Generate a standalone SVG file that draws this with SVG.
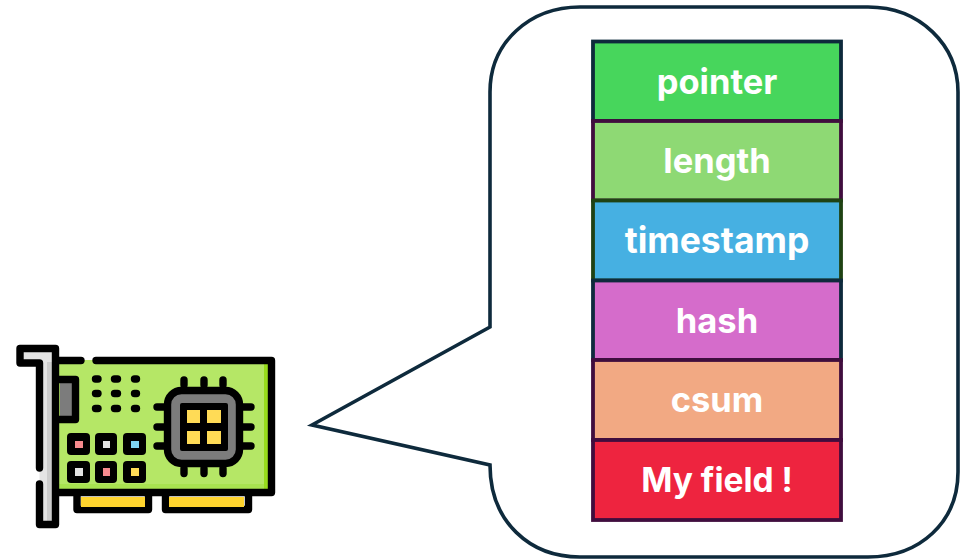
<svg xmlns="http://www.w3.org/2000/svg" width="960" height="559" viewBox="0 0 960 559">
<style>
.l{font-family:Inter,"Liberation Sans",sans-serif;font-weight:700;font-size:34.500px;fill:#fff;text-anchor:middle}
.f{stroke-width:3.8}
.k{fill:none;stroke:#000;stroke-width:7.400;stroke-linecap:round;stroke-linejoin:round}
.b{fill:#000}
.y{fill:#ffdb56}
.w{fill:#e4e4e4}
.r{fill:#f68a8e}
</style>
<rect width="960" height="559" fill="#fff"/>
<g id="callout"><path d="M490 327V92C490 42 530 7 580 7H868C920 7 958 45 958 92V472C958 522 920 557 868 557H580C530 557 490 522 490 465L312 425Z" fill="#fff" stroke="#0e2a3c" stroke-width="3.6" stroke-linejoin="miter"/></g>
<g id="nic">
<path d="M57 360H272V492H57Z" fill="#b5e766"/>
<path d="M57 484H270V490H57Z" fill="#a8e350"/>
<path d="M264 362H270V490H264Z" fill="#97dc1c"/>
<path d="M20 348.500H55.500V524.500H39.500V363H20Z" fill="#e4e4e4"/>
<rect x="47" y="362" width="8" height="162" fill="#cdcdcd"/>
<rect x="60" y="383" width="13" height="33" fill="#7c7c7c"/>
<path class="k" d="M59 360.500H81M96 360.500H271.500V492.500H57"/>
<path class="k" d="M39.500 468V363H20V348.500H55.500V524.500H39.500V484"/>
<path class="k" d="M57 379.500H75.500V419.500H57"/>
<path class="k" d="M95.500 379h2.500M114.500 379h3M134.500 379h2M95.500 393.500h2.500M114.500 393.500h3M134.500 393.500h2M95.500 408.500h2.500M114.500 408.500h3M134.500 408.500h2"/>
<path class="k" d="M184 385v-5M204 385v-5M223 385v-5M184 473.500v-5M204 473.500v-5M223 473.500v-5M157 407h9M157 427h9M157 446h9M241 407h10M241 427h10M241 446h10"/>
<rect x="167.500" y="390.500" width="72" height="73" rx="14" fill="#7c7c7c" stroke="#000" stroke-width="7.400"/>
<rect x="180" y="403" width="48" height="48" rx="2" fill="#000"/>
<rect class="y" x="187" y="410" width="13" height="13"/><rect class="y" x="207" y="410" width="14" height="13"/><rect class="y" x="187" y="431" width="13" height="13"/><rect class="y" x="207" y="431" width="14" height="13"/>
<rect class="b" x="67" y="433" width="23" height="22" rx="4"/><rect class="b" x="95" y="433" width="22" height="22" rx="4"/><rect class="b" x="123" y="433" width="23" height="22" rx="4"/><rect class="b" x="67" y="461" width="23" height="22" rx="4"/><rect class="b" x="95" y="461" width="22" height="22" rx="4"/><rect class="b" x="123" y="461" width="23" height="22" rx="4"/>
<rect class="r" x="75" y="441" width="8" height="7"/><rect class="w" x="103" y="441" width="7" height="7"/><rect x="131" y="441" width="8" height="7" fill="#7fd3f2"/>
<rect class="w" x="75" y="468" width="8" height="8"/><rect class="r" x="103" y="468" width="7" height="8"/><rect class="y" x="131" y="468" width="8" height="8"/>
<path class="k" d="M77 496V509.500H148.500V496M165.500 496V509.500H248.500V496"/>
<rect x="81" y="497" width="64" height="10" fill="#ffd42e"/><rect x="169" y="497" width="75" height="10" fill="#ffd42e"/>
</g>
<g id="pointer"><rect class="f" x="593" y="41.500" width="248" height="79.500" fill="#47d65c" stroke="#0e2a3c"/><text class="l" x="717" y="94">pointer</text></g>
<g id="length"><rect class="f" x="593" y="121" width="248" height="79.500" fill="#8ed974" stroke="#400d3e"/><text class="l" x="717" y="173">length</text></g>
<g id="timestamp"><rect class="f" x="593" y="200.500" width="248" height="80" fill="#46b0e2" stroke="#1f4213"/><text class="l" x="717" y="253" style="font-size:35.500px">timestamp</text></g>
<g id="hash"><rect class="f" x="593" y="280.500" width="248" height="79.500" fill="#d56ccb" stroke="#0e2a3c"/><text class="l" x="717" y="333">hash</text></g>
<g id="csum"><rect class="f" x="593" y="360" width="248" height="80" fill="#f2a983" stroke="#400d3e"/><text class="l" x="717" y="412">csum</text></g>
<g id="my-field"><rect class="f" x="593" y="440" width="248" height="80" fill="#ee243f" stroke="#400d3e"/><text class="l" x="717" y="492" style="font-size:33.500px">My field !</text></g>
</svg>
